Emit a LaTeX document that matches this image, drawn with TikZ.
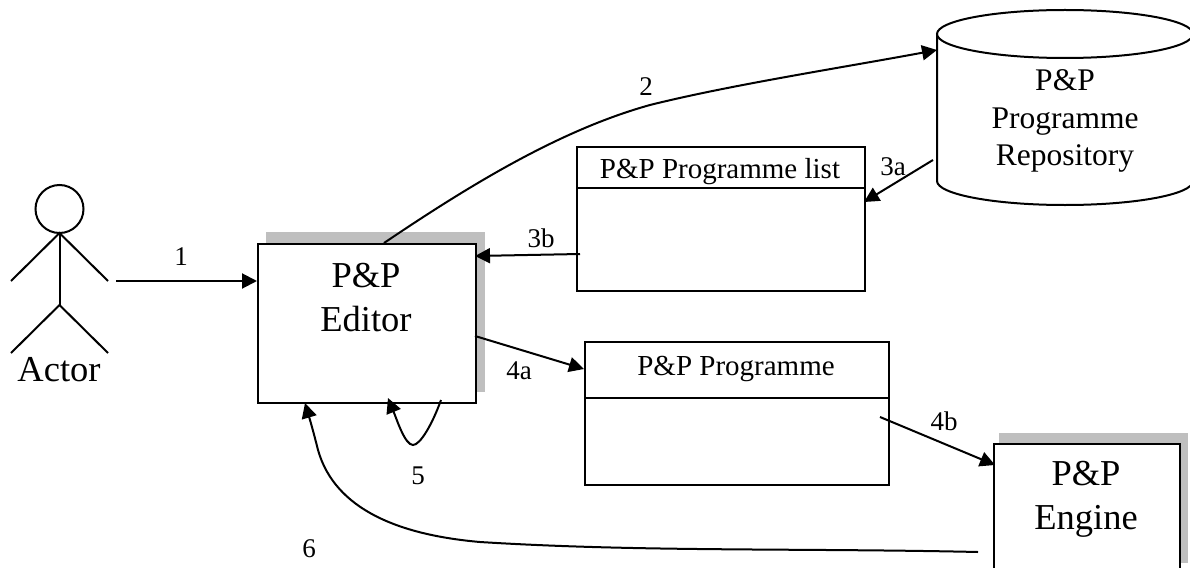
\documentclass[tikz,border=0pt]{standalone}
\usepackage{fontspec}
\setmainfont{Liberation Serif}
\usetikzlibrary{arrows.meta,calc}
\newcommand{\bigtxt}{\fontsize{36.5}{44}\selectfont}
\newcommand{\repotxt}{\fontsize{31.5}{37.5}\selectfont}
\newcommand{\midtxt}{\fontsize{29}{35}\selectfont}
\newcommand{\smalltxt}{\fontsize{27}{30}\selectfont}
\tikzset{
  x=1pt,y=-1pt,
  line/.style={line width=2pt,black},
  conn/.style={line width=2pt,black,-{Triangle[length=15pt,width=15pt]}},
  shadowbox/.style={fill=black!25,draw=none},
  boxnode/.style={draw=black,line width=2pt,fill=white,inner sep=0pt,anchor=north west},
  lab/.style={font=\smalltxt,inner sep=0pt},
}
\begin{document}
\begin{tikzpicture}
\useasboundingbox (0,0) rectangle (1190,567);
\clip (0,0) rectangle (1190,567);
% actor
\node[draw=black,line width=2pt,circle,minimum size=48pt,inner sep=0pt] (head) at (59.5,209) {};
\coordinate (neck) at (59.5,233);
\coordinate (hip) at (59.5,305);
\coordinate (handl) at (11,281);
\coordinate (handr) at (108,281);
\coordinate (footl) at (11,353);
\coordinate (footr) at (108,353);
\draw[line] (head.south) -- (hip);
\draw[line] (handl) -- (neck) -- (handr);
\draw[line] (footl) -- (hip) -- (footr);
\node[font=\bigtxt,inner sep=0pt] (actor) at (59,370) {Actor};
% editor
\fill[shadowbox] (266,232) rectangle (485,392);
\node[boxnode,minimum width=218pt,minimum height=159pt] (editor) at (257,243) {};
\node[font=\bigtxt,align=center,inner sep=0pt] (editortxt) at (366,298) {P\&P\\Editor};
% repository
\draw[line,fill=white] (937,34) -- (937,181) arc[start angle=180,end angle=360,x radius=128,y radius=-24] -- (1193,34);
\draw[line,fill=white] (1065,34) ellipse[x radius=128,y radius=24];
\node[font=\repotxt,align=center,inner sep=0pt] (repo) at (1065,121) {P\&P\\Programme\\Repository};
\coordinate (repoA) at (937,50);
\coordinate (repoB) at (933,160);
% list
\node[boxnode,minimum width=288pt,minimum height=144pt] (list) at (576,146) {};
\draw[line] (576,188) -- (864,188);
\node[font=\midtxt,inner sep=0pt] (listtxt) at (720,172) {P\&P Programme list};
% programme
\node[boxnode,minimum width=304pt,minimum height=143pt] (prog) at (584,341) {};
\draw[line] (584,398) -- (888,398);
\node[font=\midtxt,inner sep=0pt] (progtxt) at (736,369) {P\&P Programme};
% engine
\fill[shadowbox] (999,433) rectangle (1188,563);
\node[boxnode,minimum width=186pt,minimum height=140pt] (engine) at (993,443) {};
\node[font=\bigtxt,align=center,inner sep=0pt] (enginetxt) at (1086,499) {P\&P\\Engine};
% connectors
\coordinate (a1) at (116,281);
\draw[conn] (a1) -- (editor.west |- a1);
\draw[conn] (384,243) .. controls (470,185) and (560,130) .. (650,105) .. controls (730,85) and (840,68) .. (repoA);
\draw[conn] (repoB) -- (864,202);
\draw[conn] (580,254) -- (475,256);
\draw[conn] (475,336) -- (584,369);
\draw[conn] (880,417) -- (995,465);
\draw[conn] (441,400) .. controls (432,425) and (420,445) .. (413,445) .. controls (405,445) and (397,420) .. (388,398);
\draw[conn] (978,552) .. controls (800,548) and (640,552) .. (480,542) .. controls (400,535) and (335,510) .. (318,450) .. controls (313,430) and (310,420) .. (305,403);
% labels
\node[lab] (l1) at (181,257) {1};
\node[lab] (l2) at (646,87) {2};
\node[lab] (l3a) at (893,167) {3a};
\node[lab] (l3b) at (541,238) {3b};
\node[lab] (l4a) at (519,371) {4a};
\node[lab] (l4b) at (944,421) {4b};
\node[lab] (l5) at (418,476) {5};
\node[lab] (l6) at (309,549) {6};
\end{tikzpicture}
\end{document}
